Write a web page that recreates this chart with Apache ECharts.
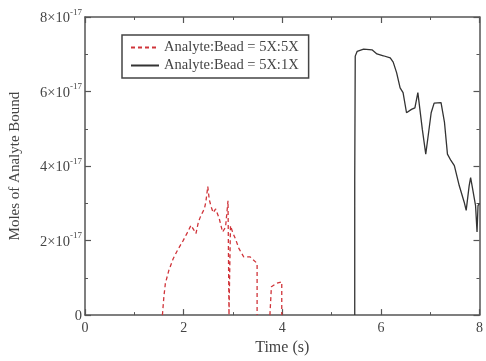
<!DOCTYPE html>
<html><head><meta charset="utf-8">
<script src="https://cdn.jsdelivr.net/npm/echarts@6/dist/echarts.min.js"></script>
<style>html,body{margin:0;padding:0;background:#fff}#c{width:486px;height:361px}</style>
</head><body><div id="c"></div>
<script>
// values of y are in units of 1e-17 moles
const xTicks = [0, 2, 4, 6, 8];
const yTicks = [0, 2, 4, 6, 8];
const seriesNames = ['Analyte:Bead = 5X:5X', 'Analyte:Bead = 5X:1X'];
const redTime  = [1.57,1.60,1.63,1.70,1.79,1.88,1.99,2.07,2.15,2.20,2.25,2.30,2.35,2.42,2.45,2.49,2.52,2.56,2.60,2.65,2.69,2.72,2.79,2.85,2.90,2.92,2.95,3.00,3.05,3.12,3.22,3.35,3.49,3.49,3.60,3.75,3.78,3.88,3.99,3.99];
const redValue = [0,0.5,0.85,1.2,1.52,1.75,2.0,2.2,2.41,2.3,2.19,2.5,2.67,2.85,3.03,3.45,3.1,2.9,2.75,2.85,2.8,2.6,2.23,2.36,3.07,0,2.4,2.2,2.05,1.79,1.56,1.56,1.39,0,null,0,0.76,0.85,0.89,0];
const blackTime  = [5.47,5.47,5.48,5.52,5.65,5.82,5.92,6.05,6.19,6.25,6.32,6.39,6.45,6.52,6.62,6.69,6.75,6.79,6.84,6.91,6.95,7.02,7.08,7.22,7.29,7.35,7.42,7.49,7.59,7.69,7.73,7.79,7.82,7.85,7.92,7.95,7.97,8.0];
const blackValue = [0,3.6,6.95,7.08,7.14,7.12,7.01,6.96,6.9,6.79,6.5,6.1,5.97,5.43,5.52,5.56,5.97,5.92,4.99,4.32,4.72,5.43,5.69,5.7,5.17,4.32,4.15,4.01,3.47,3.03,2.81,3.47,3.69,3.47,2.94,2.23,2.94,3.0];

const zip = (a, b) => a.map((t, i) => [t, b[i]]);
const font = 'Liberation Serif';
const axisColor = '#555';
const textColor = '#444';

const baseAxis = () => ({
  type: 'value', min: 0, max: 8, interval: 2,
  axisLine: {show: true, onZero: false, lineStyle: {color: axisColor, width: 1.5}},
  axisTick: {show: true, inside: true, length: 6, lineStyle: {color: axisColor, width: 1.2}},
  minorTick: {show: true, splitNumber: 2, length: 3, lineStyle: {color: axisColor}},
  splitLine: {show: false}
});

const chart = echarts.init(document.getElementById('c'), null, {renderer: 'canvas'});
chart.setOption({
  animation: false,
  backgroundColor: '#fff',
  grid: {left: 84, right: 3, top: 17, bottom: 44},
  legend: {
    orient: 'vertical', left: 122, top: 35,
    padding: [5, 10, 5, 8], itemGap: 3,
    itemWidth: 28, itemHeight: 10,
    borderColor: '#444', borderWidth: 1.5,
    itemStyle: {opacity: 0},
    textStyle: {fontFamily: font, fontSize: 14.5, color: textColor},
    data: seriesNames
  },
  xAxis: [
    Object.assign(baseAxis(), {
      position: 'bottom',
      name: 'Time (s)', nameLocation: 'middle', nameGap: 24,
      nameTextStyle: {fontFamily: font, fontSize: 16, color: textColor},
      axisLabel: {fontFamily: font, fontSize: 14, color: textColor, margin: 6,
        formatter: v => xTicks.includes(v) ? String(v) : ''}
    }),
    Object.assign(baseAxis(), {position: 'top', axisLabel: {show: false}})
  ],
  yAxis: [
    Object.assign(baseAxis(), {
      position: 'left',
      name: 'Moles of Analyte Bound', nameLocation: 'middle', nameGap: 62,
      nameTextStyle: {fontFamily: font, fontSize: 15, color: textColor},
      axisLabel: {
        margin: 3, color: textColor,
        formatter: v => !yTicks.includes(v) ? '' : (v === 0 ? '{b|0}' : '{b|' + v + '×10}{s|-17}'),
        rich: {
          b: {fontFamily: font, fontSize: 14.5, color: textColor, verticalAlign: 'bottom', lineHeight: 17},
          s: {fontFamily: font, fontSize: 9, color: textColor, verticalAlign: 'top', padding: [0, 0, 9, 0]}
        }
      }
    }),
    Object.assign(baseAxis(), {position: 'right', axisLabel: {show: false}})
  ],
  series: [
    {
      name: seriesNames[0], type: 'line', xAxisIndex: 0, yAxisIndex: 0,
      data: zip(redTime, redValue), showSymbol: false, symbol: 'none',
      connectNulls: false,
      lineStyle: {color: '#d0343a', width: 1.3, type: [4, 3]},
      itemStyle: {color: '#d0343a'}
    },
    {
      name: seriesNames[1], type: 'line', xAxisIndex: 0, yAxisIndex: 0,
      data: zip(blackTime, blackValue), showSymbol: false, symbol: 'none',
      lineStyle: {color: '#333', width: 1.3},
      itemStyle: {color: '#333'}
    }
  ]
});
</script></body></html>
